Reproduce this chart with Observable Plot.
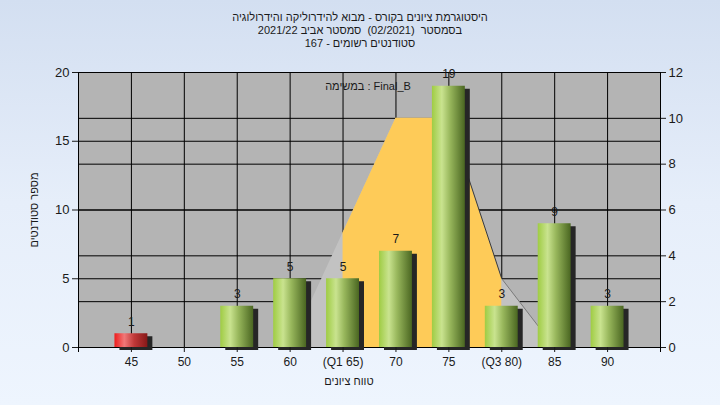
<!DOCTYPE html>
<html><head><meta charset="utf-8">
<script src="https://cdn.jsdelivr.net/npm/d3@7"></script>
<script src="https://cdn.jsdelivr.net/npm/@observablehq/plot@0.6"></script>
<style>
html,body{margin:0;padding:0;}
body{width:720px;height:405px;overflow:hidden;background:linear-gradient(to bottom,#d3dff1 0%,#e6eefa 50%,#eef5fe 100%);font-family:"Liberation Sans",Arial,sans-serif;}
#wrap{position:relative;width:720px;height:405px;}
.t{position:absolute;font-size:11px;color:#1a1a1a;white-space:nowrap;}
#title{left:0;top:11px;width:720px;text-align:center;line-height:13px;direction:rtl;}
#ylab{left:34px;top:210px;transform:translate(-50%,-50%) rotate(-90deg);}
#xlab{left:349px;top:381px;transform:translate(-50%,-50%);}
#task{left:368px;top:86px;transform:translate(-50%,-50%);}
</style></head>
<body><div id="wrap">
<div id="chart"></div>
<div class="t" id="title"><div>היסטוגרמת ציונים בקורס - מבוא להידרוליקה והידרולוגיה</div><div>בסמסטר&nbsp; (02/2021)&nbsp; סמסטר אביב 2021/22</div><div>סטודנטים רשומים - 167</div></div>
<div class="t" id="ylab">מספר סטודנטים</div>
<div class="t" id="xlab">טווח ציונים</div>
<div class="t" id="task">במשימה : Final_B</div>
</div>
<script>
const grades = [45, 50, 55, 60, 65, 70, 75, 80, 85, 90];
const tickLabels = ["45", "50", "55", "60", "(Q1 65)", "70", "75", "(Q3 80)", "85", "90"];
const counts = [1, 0, 3, 5, 5, 7, 19, 3, 9, 3];
const curveValues = [0, 0, 0, 0, 5, 10, 10, 3, 0, 0]; // right axis scale
const q1 = 65, q3 = 80;
const passMark = 55;
const leftTicks = [0, 5, 10, 15, 20];
const rightTicks = [0, 2, 4, 6, 8, 10, 12];
const leftMax = 20, rightMax = 12;
const k = leftMax / rightMax;

const bars = grades.map((g, i) => ({grade: g, label: tickLabels[i], count: counts[i]}));
const shown = bars.filter(d => d.count > 0);
const curve = grades.map((g, i) => ({grade: g, value: curveValues[i] * k}));
const half = (grades[1] - grades[0]) / 2;
const xDomain = [grades[0] - 2 * half, grades[grades.length - 1] + 2 * half];

const plot = Plot.plot({
  width: 720, height: 405,
  marginLeft: 78, marginRight: 60, marginTop: 72, marginBottom: 58,
  style: {background: "transparent", fontFamily: "Liberation Sans, Arial, sans-serif", fontSize: "12px", color: "#1a1a1a"},
  x: {domain: xDomain},
  y: {domain: [0, leftMax]},
  marks: [
    Plot.frame({fill: "#b4b4b4", stroke: null}),
    Plot.ruleY(leftTicks, {stroke: "#000", strokeWidth: 1}),
    Plot.ruleY(rightTicks.map(t => t * k), {stroke: "#000", strokeWidth: 1}),
    Plot.ruleX(grades, {stroke: "#000", strokeWidth: 1}),
    Plot.areaY(curve, {x: "grade", y: "value", fill: "#c2c2c2"}),
    Plot.areaY(curve.filter(d => d.grade >= q1 && d.grade <= q3), {x: "grade", y: "value", fill: "#fecb58"}),
    Plot.line(curve.filter(d => d.grade >= 75 && d.grade <= 80), {x: "grade", y: "value", stroke: "#3a3a3a", strokeWidth: 1}),
    Plot.line(curve.filter(d => d.grade >= 80 && d.grade <= 85), {x: "grade", y: "value", stroke: "#7a7a7a", strokeWidth: 1}),
    Plot.frame({stroke: "#000", strokeWidth: 1}),
    Plot.ruleX(xDomain, {y1: 0, y2: 0, insetBottom: -5, stroke: "#000"}),
    Plot.rectY(shown, {x1: d => d.grade - half, x2: d => d.grade + half, y: "count", insetLeft: 10, insetRight: 10, dx: 5, dy: 3, fill: "#262626", ariaLabel: "shadow"}),
    Plot.rectY(shown.filter(d => d.grade >= passMark), {x1: d => d.grade - half, x2: d => d.grade + half, y: "count", insetLeft: 10, insetRight: 10, fill: "url(#gGreen)"}),
    Plot.rectY(shown.filter(d => d.grade < passMark), {x1: d => d.grade - half, x2: d => d.grade + half, y: "count", insetLeft: 10, insetRight: 10, fill: "url(#gRed)"}),
    Plot.text(shown, {x: "grade", y: "count", text: d => String(d.count), dy: -12, fill: "#1a1a1a", fontSize: 12}),
    Plot.axisY(leftTicks, {anchor: "left", tickSize: 6, tickPadding: 3, label: null, fontSize: 13}),
    Plot.axisY(rightTicks.map(t => t * k), {anchor: "right", tickSize: 5, tickPadding: 3, label: null, tickFormat: d => String(Math.round(d / k)), fontSize: 13}),
    Plot.axisX(grades, {anchor: "bottom", tickSize: 5, tickPadding: 5, label: null, tickFormat: d => tickLabels[grades.indexOf(d)]})
  ]
});
document.getElementById("chart").appendChild(plot);

const svg = d3.select(plot);
const defs = svg.insert("defs", ":first-child");
const g1 = defs.append("linearGradient").attr("id", "gGreen").attr("x1", "0").attr("x2", "1").attr("y1", "0").attr("y2", "0");
[["0%", "#9fcc43"], ["30%", "#c9e38f"], ["55%", "#98b75c"], ["100%", "#4a6621"]].forEach(([o, c]) => g1.append("stop").attr("offset", o).attr("stop-color", c));
const g2 = defs.append("linearGradient").attr("id", "gRed").attr("x1", "0").attr("x2", "1").attr("y1", "0").attr("y2", "0");
[["0%", "#ee1c1c"], ["30%", "#f07878"], ["60%", "#c03838"], ["100%", "#861818"]].forEach(([o, c]) => g2.append("stop").attr("offset", o).attr("stop-color", c));
defs.append("filter").attr("id", "blur").attr("x", "-30%").attr("y", "-30%").attr("width", "160%").attr("height", "160%")
  .append("feGaussianBlur").attr("stdDeviation", 2.5);
svg.selectAll('g[aria-label="shadow"]').attr("filter", "url(#blur)").attr("opacity", 0.8);
</script>
</body></html>
